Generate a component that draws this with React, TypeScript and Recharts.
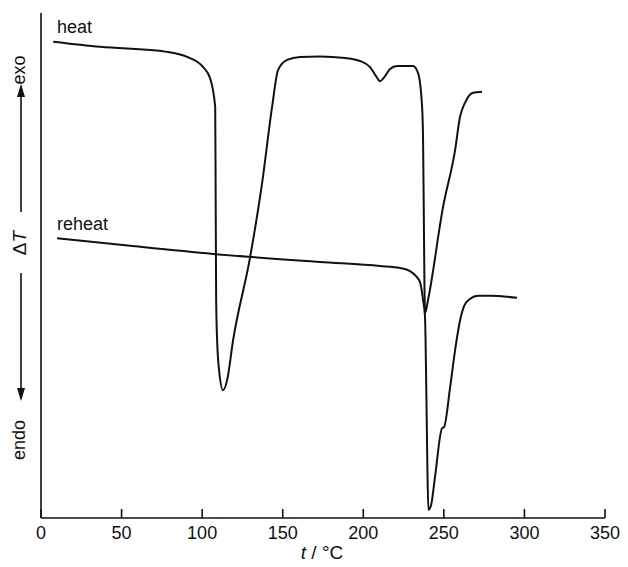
import { LineChart, Line, XAxis, YAxis } from "recharts";

// heating run (°C, ΔT in arbitrary units, exo up)
const heatT = [
  7.6, 36.7, 78.2, 90.7, 100.6, 104.9, 108.1, 108.4, 108.7, 109.3, 110.5, 113.0,
  115.5, 119.2, 129.8, 137.2, 143.4, 147.1, 152.7, 160.8, 173.2, 188.7, 198.0,
  204.2, 207.9, 210.4, 213.5, 216.6, 221.0, 230.9, 234.0, 236.5, 237.1, 237.7,
  238.0, 238.4, 240.2, 249.5, 257.0, 260.0, 263.1, 268.1, 273.7,
];
const heatDT = [
  94.3, 93.3, 92.3, 91.3, 89.3, 87.1, 81.4, 63.0, 43.2, 35.2, 29.3, 25.3, 27.3,
  35.2, 51.7, 66.3, 81.4, 88.7, 90.7, 91.3, 91.4, 91.1, 90.5, 89.3, 87.5, 86.5,
  87.5, 88.9, 89.5, 89.5, 88.1, 81.4, 74.9, 55.0, 45.1, 40.6, 43.2, 61.6, 72.9,
  79.4, 82.2, 84.2, 84.4,
];

// reheating run
const reheatT = [
  10.0, 55.3, 106.8, 173.2, 210.4, 222.8, 229.0, 232.7, 235.2, 237.1, 238.3,
  239.2, 239.8, 240.4, 242.1, 244.5, 248.9, 250.1, 253.9, 257.0, 260.1, 262.6,
  266.3, 271.2, 278.7, 295.4,
];
const reheatDT = [
  55.4, 53.9, 52.3, 50.7, 49.9, 49.5, 48.9, 47.9, 46.7, 43.2, 39.8, 23.4, 9.5,
  1.6, 2.6, 8.1, 17.8, 18.0, 25.9, 33.3, 39.2, 42.0, 43.4, 44.0, 44.0, 43.6,
];

const xTicks = [0, 50, 100, 150, 200, 250, 300, 350];

const heatData = heatT.map((t, i) => ({ t, dT: heatDT[i] }));
const reheatData = reheatT.map((t, i) => ({ t, dT: reheatDT[i] }));

const FONT = "'Liberation Sans', Arial, sans-serif";

function TickUp(props: any) {
  const { x, y, payload } = props;
  return (
    <g>
      <line x1={x} y1={y} x2={x} y2={y - 9} stroke="#111" strokeWidth={1.6} />
      <text
        x={x}
        y={y + 21}
        textAnchor="middle"
        fontSize={18}
        fontFamily={FONT}
        fill="#111"
      >
        {payload.value}
      </text>
    </g>
  );
}

export default function App() {
  return (
    <div
      style={{
        position: "absolute",
        left: 0,
        top: 0,
        width: 628,
        height: 567,
        background: "#fff",
      }}
    >
      <LineChart
        width={628}
        height={567}
        margin={{ top: 13, right: 23, left: 40, bottom: 9 }}
      >
        <XAxis
          dataKey="t"
          type="number"
          domain={[0, 350]}
          ticks={xTicks}
          tickLine={false}
          tickSize={0}
          tickMargin={0}
          tick={<TickUp />}
          height={40}
          axisLine={{ stroke: "#111", strokeWidth: 1.6 }}
          allowDataOverflow
        />
        <YAxis
          type="number"
          domain={[0, 100]}
          width={1}
          tick={false}
          tickLine={false}
          axisLine={{ stroke: "#111", strokeWidth: 1.6 }}
        />
        <Line
          data={heatData}
          dataKey="dT"
          type="monotone"
          stroke="#111"
          strokeWidth={2}
          dot={false}
          isAnimationActive={false}
        />
        <Line
          data={reheatData}
          dataKey="dT"
          type="monotone"
          stroke="#111"
          strokeWidth={2}
          dot={false}
          isAnimationActive={false}
        />
      </LineChart>
      <svg
        width={628}
        height={567}
        style={{ position: "absolute", left: 0, top: 0, pointerEvents: "none" }}
      >
        <defs>
          <marker
            id="ah"
            viewBox="0 0 12 8"
            refX="11"
            refY="4"
            markerWidth="8"
            markerHeight="5.5"
            markerUnits="userSpaceOnUse"
            orient="auto"
          >
            <path d="M0,0 L12,4 L0,8 z" fill="#111" />
          </marker>
        </defs>
        <text x={57} y={33} fontSize={18} fontFamily={FONT} fill="#111">
          heat
        </text>
        <text x={57} y={230} fontSize={18} fontFamily={FONT} fill="#111">
          reheat
        </text>
        <text
          transform="translate(25,70) rotate(-90)"
          textAnchor="middle"
          fontSize={18}
          fontFamily={FONT}
          fill="#111"
        >
          exo
        </text>
        <line x1={21} y1={212} x2={21} y2={86} stroke="#111" strokeWidth={1.6} />
        <path d="M21,84 L17,97 L25,97 z" fill="#111" />
        <text
          transform="translate(26,243) rotate(-90)"
          textAnchor="middle"
          fontSize={19}
          fontFamily={FONT}
          fill="#111"
        >
          Δ<tspan fontStyle="italic">T</tspan>
        </text>
        <line x1={21} y1={273} x2={21} y2={398} stroke="#111" strokeWidth={1.6} />
        <path d="M21,401 L17,388 L25,388 z" fill="#111" />
        <text
          transform="translate(25,440) rotate(-90)"
          textAnchor="middle"
          fontSize={18}
          fontFamily={FONT}
          fill="#111"
        >
          endo
        </text>
        <text x={322} y={559} textAnchor="middle" fontSize={19} fontFamily={FONT} fill="#111">
          <tspan fontStyle="italic">t</tspan> / °C
        </text>
      </svg>
    </div>
  );
}
